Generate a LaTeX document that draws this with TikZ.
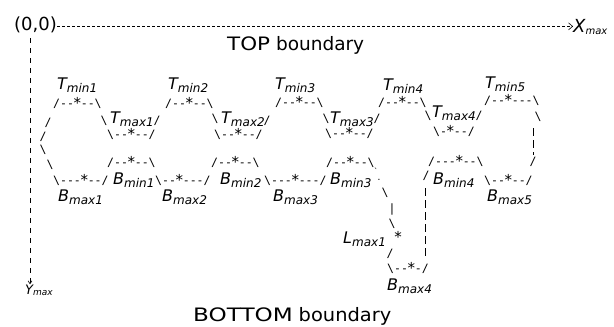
\documentclass[tikz,border=0pt]{standalone}
\usepackage{fontspec}
\setmainfont{DejaVu Sans}
\newfontfamily\monof{DejaVu Sans Mono}
\usetikzlibrary{arrows.meta}
\newcommand\bsl{\textbackslash}
\newcommand\stx{\raisebox{-1.8pt}{\makebox[0.6em]{\scalebox{1.3}{*}}}}
\newcommand\lbl[2]{{\fontsize{16}{16}\selectfont\itshape #1\raisebox{-3pt}{\fontsize{12}{12}\selectfont #2}}}
\begin{document}
\begin{tikzpicture}[x=1pt,y=-1pt,
  art/.style={anchor=base west,inner sep=0pt,font=\monof\fontsize{11.5}{11.5}\selectfont},
  ch/.style={anchor=base,inner sep=0pt,font=\monof\fontsize{11.5}{11.5}\selectfont},
  lab/.style={anchor=base west,inner sep=0pt},
  big/.style={anchor=base west,inner sep=0pt,font=\fontsize{18.5}{18.5}\selectfont},
  haxis/.style={line width=0.6pt,dash pattern=on 3pt off 2pt,-{Straight Barb[length=4pt,width=7pt]}},
  vaxis/.style={line width=0.6pt,dash pattern=on 5pt off 5pt,-{Straight Barb[length=3pt,width=4pt]}},
  vbar/.style={line width=0.7pt,dash pattern=on 8pt off 4pt}]
\useasboundingbox (0,0) rectangle (614,327);
% header and axes
\node[big,font=\fontsize{18}{18}\selectfont] (origin) at (14,30) {(0,0)};
\node[lab] (xmax) at (573,32) {{\fontsize{18}{18}\selectfont\itshape X}\raisebox{-2pt}{\fontsize{10}{10}\selectfont\itshape max}};
\node[big] (top) at (227,50) {\scalebox{1.16}[1]{TOP} boundary};
\node[big] (bottom) at (193,321) {\scalebox{1.25}[1]{BOTTOM} \scalebox{1.05}[1]{boundary}};
\node[lab] (ymax) at (25,294) {{\fontsize{13}{13}\selectfont\itshape Y}\raisebox{-1pt}{\fontsize{9}{9}\selectfont\itshape max}};
\draw[haxis] ([yshift=-2pt]origin.east) -- ([yshift=-2pt]origin.east -| xmax.west);
\coordinate (ytop) at (30,38);
\draw[vaxis] (ytop) -- (ytop |- ymax.north);
% T min labels
\node[lab] (tmin1) at (57,89) {\lbl{T}{min1}};
\node[lab] (tmin2) at (168,89) {\lbl{T}{min2}};
\node[lab] (tmin3) at (275,89) {\lbl{T}{min3}};
\node[lab] (tmin4) at (383,90) {\lbl{T}{min4}};
\node[lab] (tmin5) at (485,88) {\lbl{T}{min5}};
% top rows
\node[art] (r1a) at (53,107) {/{-}{-}\stx{-}{-}\bsl};
\node[art] (r1b) at (165,107) {/{-}{-}\stx{-}{-}\bsl};
\node[art] (r1c) at (275,106) {/{-}{-}\stx{-}{-}\bsl};
\node[art] (r1d) at (378,106) {/{-}{-}\stx{-}{-}\bsl};
\node[art] (r1e) at (484,104) {/{-}{-}\stx{-}{-}{-}\bsl};
% T max labels
\node[lab] (tmax1) at (110,123) {\lbl{T}{max1}};
\node[lab] (tmax2) at (221,123) {\lbl{T}{max2}};
\node[lab] (tmax3) at (330,123) {\lbl{T}{max3}};
\node[lab] (tmax4) at (432,117) {\lbl{T}{max4}};
\node[ch] (s1) at (104,124) {\bsl};
\node[ch] (s2) at (157,124) {/};
\node[ch] (s3) at (215,122) {\bsl};
\node[ch] (s4) at (267,124) {/};
\node[ch] (s5) at (326,122) {\bsl};
\node[ch] (s6) at (377,122) {/};
\node[ch] (s7) at (428,119) {\bsl};
\node[ch] (s8) at (479,119) {/};
% left side of first shape
\node[ch] (l1) at (48,126) {/};
\node[ch] (l2) at (43,140) {/};
\node[ch] (l3) at (43,153) {\bsl};
\node[ch] (l4) at (50,168) {\bsl};
% right side of last shape
\node[ch] (rr1) at (538,120) {\bsl};
\node[ch] (rr2) at (533,165) {/};
\coordinate (rv1) at (533,128);
\coordinate (rv2) at (533,155);
\draw[vbar] (rv1) -- (rv2);
% rows under T max
\node[art] (r2a) at (107,138) {\bsl{-}{-}\stx{-}{-}/};
\node[art] (r2b) at (214,138) {\bsl{-}{-}\stx{-}{-}/};
\node[art] (r2c) at (325,137) {\bsl{-}{-}\stx{-}{-}/};
\node[art] (r2d) at (433,135) {\bsl{-}\stx{-}{-}/};
% rows above B min
\node[art] (r3a) at (107,166) {/{-}{-}\stx{-}{-}\bsl};
\node[art] (r3b) at (211,166) {/{-}{-}\stx{-}{-}\bsl};
\node[art] (r3c) at (326,166) {/{-}{-}\stx{-}{-}\bsl};
\node[art] (r3d) at (428,165) {/{-}{-}{-}\stx{-}{-}\bsl};
% B row
\node[art] (r4a) at (53,184) {\bsl{-}{-}{-}\stx{-}{-}/};
\node[art] (r4b) at (155,184) {\bsl{-}{-}\stx{-}{-}{-}/};
\node[art] (r4c) at (264,184) {\bsl{-}{-}{-}\stx{-}{-}{-}/};
\node[art] (r4d) at (484,184) {\bsl{-}{-}\stx{-}{-}/};
\node[ch] (s9) at (426,179) {/};
\node[lab] (bmin1) at (113,184) {\lbl{B}{min1}};
\node[lab] (bmin2) at (220,184) {\lbl{B}{min2}};
\node[lab] (bmin3) at (330,184) {\lbl{B}{min3}};
\node[lab] (bmin4) at (433,184) {\lbl{B}{min4}};
\node[ch,font=\monof\fontsize{8}{8}\selectfont] (tick) at (376,174) {`};
\node[ch,font=\monof\fontsize{8}{8}\selectfont] (dot) at (379,180) {.};
% B max labels
\node[lab] (bmax1) at (58,201) {\lbl{B}{max1}};
\node[lab] (bmax2) at (162,201) {\lbl{B}{max2}};
\node[lab] (bmax3) at (273,201) {\lbl{B}{max3}};
\node[lab] (bmax5) at (487,201) {\lbl{B}{max5}};
% lower dip
\node[ch] (d1) at (385,196) {\bsl};
\node[ch] (d2) at (392,212) {|};
\node[ch] (d3) at (392,227) {\bsl};
\node[lab] (lmax1) at (343,243) {\lbl{L}{max1}};
\node[ch] (d4) at (398,241) {\stx};
\node[ch] (d5) at (390,257) {/};
\node[art] (r5) at (387,272) {\bsl{-}{-}\stx{-}/};
\node[lab] (bmax4) at (387,290) {\lbl{B}{max4}};
\coordinate (dv1) at (425,188);
\coordinate (dv2) at (425,259);
\draw[vbar] (dv1) -- (dv2);
\end{tikzpicture}
\end{document}
